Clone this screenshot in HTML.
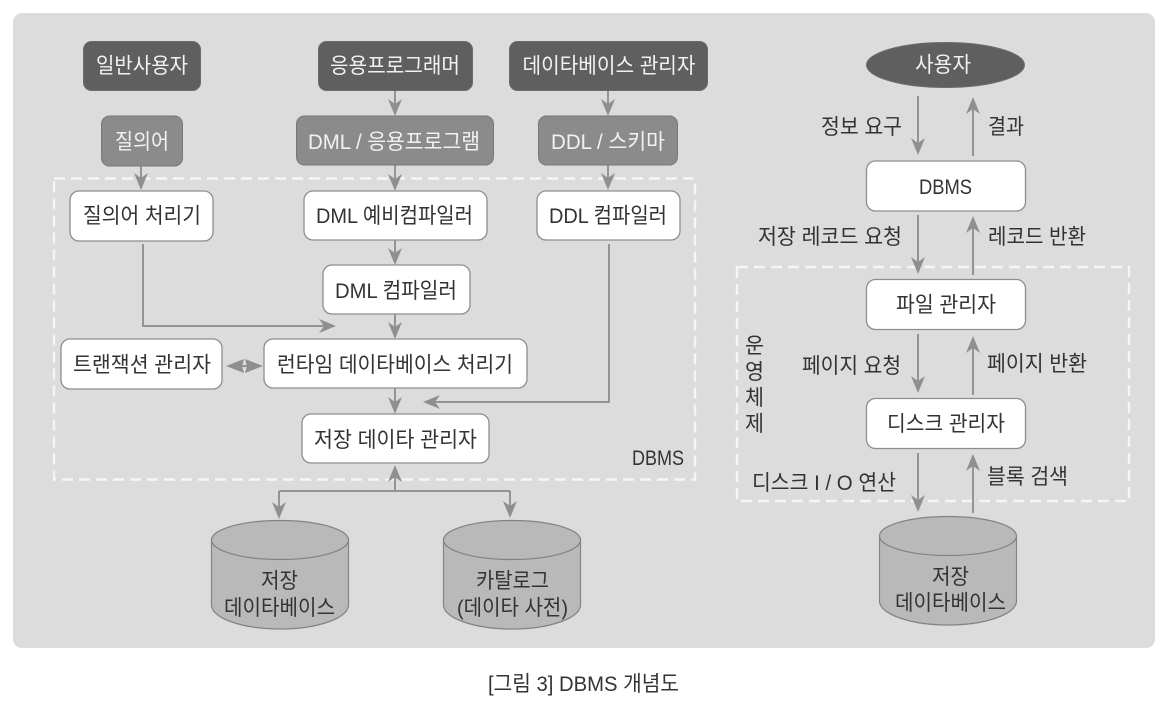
<!DOCTYPE html>
<html lang="ko"><head><meta charset="utf-8"><title>DBMS 개념도</title>
<style>
html,body{margin:0;padding:0;background:#fff}
svg{display:block}
text{font-family:"Liberation Sans","Noto Sans CJK KR",sans-serif;font-size:21.5px;fill:#333;text-anchor:middle}
.w{fill:#f2f2f2}
.b{fill:#fff;stroke:#8e8e8e;stroke-width:1.3}
.d{fill:#5f5f5f;stroke:#6b6b6b;stroke-width:1}
.m{fill:#8b8b8b;stroke:#787878;stroke-width:1}
.l{fill:none;stroke:#949494;stroke-width:2}
.h{fill:#8f8f8f}
.x{fill:none;stroke:#f5f5f5;stroke-width:2.4;stroke-dasharray:11 6}
.c{fill:#b9b9b9;stroke:#838383;stroke-width:1.2}
</style></head><body>
<svg xmlns="http://www.w3.org/2000/svg" width="1169" height="709" viewBox="0 0 1169 709">
<rect width="1169" height="709" fill="#fff"/>
<rect x="13" y="13" width="1142" height="635" rx="9" fill="#dcdcdc"/>

<!-- dashed regions -->
<rect class="x" x="54" y="178.500" width="641" height="301"/>
<rect class="x" x="737" y="267" width="392" height="234"/>

<!-- left connectors -->
<path class="l" d="M395 91V112M395 165V187M395 240V261M395 314V335M395 388V410M141 166V186M608 91V112M608 165V186"/>
<path class="l" d="M143 244V326H330M609 244V402H430M395 470V491M279 491H510M279 491V515M510 491V514M235 366H255"/>
<path class="h" d="M395 116l-7-17 7 5 7-5zM395 191l-7-17 7 5 7-5zM395 265l-7-17 7 5 7-5zM395 339l-7-17 7 5 7-5zM395 414l-7-17 7 5 7-5zM141 190l-7-17 7 5 7-5zM608 116l-7-17 7 5 7-5zM608 190l-7-17 7 5 7-5z"/>
<path class="h" d="M336 326l-17-7 5 7-5 7zM423 402l17-7-5 7 5 7zM226 366l18-7-2 7 2 7zM263 366l-18-7 2 7-2 7zM395 465l-7 17 7-5 7 5zM279 519l-7-17 7 5 7-5zM510 518l-7-17 7 5 7-5z"/>

<!-- right connectors -->
<path class="l" d="M918 96V150M973 108V156M918 215V270M973 227V275M918 334V388M973 347V395M918 453V507M973 465V513"/>
<path class="h" d="M918 155l-7-17 7 5 7-5zM973 97l-7 17 7-5 7 5zM918 274l-7-17 7 5 7-5zM973 216l-7 17 7-5 7 5zM918 393l-7-17 7 5 7-5zM973 336l-7 17 7-5 7 5zM918 512l-7-17 7 5 7-5zM973 454l-7 17 7-5 7 5z"/>

<!-- top dark boxes -->
<rect class="d" x="83.500" y="41.500" width="117" height="49" rx="8"/>
<rect class="d" x="318.500" y="41.500" width="154" height="49" rx="8"/>
<rect class="d" x="509.500" y="41.500" width="198" height="49" rx="8"/>
<ellipse class="d" cx="945.500" cy="65" rx="79" ry="22.500"/>

<!-- mid boxes -->
<rect class="m" x="101.500" y="116" width="81" height="50" rx="8"/>
<rect class="m" x="296.500" y="116" width="197" height="49" rx="8"/>
<rect class="m" x="538.500" y="116" width="139" height="49" rx="8"/>

<!-- white boxes -->
<rect class="b" x="70" y="191" width="143" height="50" rx="9"/>
<rect class="b" x="304" y="191" width="183" height="49" rx="9"/>
<rect class="b" x="537" y="191" width="143" height="49" rx="9"/>
<rect class="b" x="323" y="265" width="147" height="49" rx="9"/>
<rect class="b" x="61" y="339" width="161" height="50" rx="9"/>
<rect class="b" x="264" y="339" width="263" height="49" rx="9"/>
<rect class="b" x="302" y="414" width="187" height="49" rx="9"/>
<rect class="b" x="866.500" y="161" width="159" height="50" rx="9"/>
<rect class="b" x="866.500" y="279.500" width="159" height="50" rx="9"/>
<rect class="b" x="866.500" y="398.500" width="159" height="50" rx="9"/>

<!-- cylinders -->
<path class="c" d="M211.500 540V605C211.500 618 242 629 280 629S348.500 618 348.500 605V540Z"/>
<ellipse class="c" cx="280" cy="540" rx="68.500" ry="19.500"/>
<path class="c" d="M443.500 540V605C443.500 618 474 629 512 629S580.500 618 580.500 605V540Z"/>
<ellipse class="c" cx="512" cy="540" rx="68.500" ry="19.500"/>
<path class="c" d="M879.500 536V601C879.500 614 910 625 948 625S1016.500 614 1016.500 601V536Z"/>
<ellipse class="c" cx="948" cy="536" rx="68.500" ry="19.500"/>

<!-- labels -->
<g>
<text class="w" x="142" y="73" textLength="92" lengthAdjust="spacingAndGlyphs">일반사용자</text>
<text class="w" x="395" y="73" textLength="130" lengthAdjust="spacingAndGlyphs">응용프로그래머</text>
<text class="w" x="609" y="73" textLength="173" lengthAdjust="spacingAndGlyphs">데이타베이스 관리자</text>
<text class="w" x="142" y="149" textLength="54" lengthAdjust="spacingAndGlyphs">질의어</text>
<text class="w" x="394" y="149" textLength="172" lengthAdjust="spacingAndGlyphs">DML / 응용프로그램</text>
<text class="w" x="608" y="149" textLength="114" lengthAdjust="spacingAndGlyphs">DDL / 스키마</text>
<text x="142" y="223" textLength="118" lengthAdjust="spacingAndGlyphs">질의어 처리기</text>
<text x="394.500" y="223" textLength="157" lengthAdjust="spacingAndGlyphs">DML 예비컴파일러</text>
<text x="608" y="223" textLength="118" lengthAdjust="spacingAndGlyphs">DDL 컴파일러</text>
<text x="396" y="298" textLength="122" lengthAdjust="spacingAndGlyphs">DML 컴파일러</text>
<text x="142" y="372" textLength="138" lengthAdjust="spacingAndGlyphs">트랜잭션 관리자</text>
<text x="395" y="372" textLength="236" lengthAdjust="spacingAndGlyphs">런타임 데이타베이스 처리기</text>
<text x="395.500" y="447" textLength="163" lengthAdjust="spacingAndGlyphs">저장 데이타 관리자</text>
<text x="658" y="465" textLength="52" lengthAdjust="spacingAndGlyphs">DBMS</text>
<text x="279.500" y="588" textLength="37" lengthAdjust="spacingAndGlyphs">저장</text>
<text x="279.500" y="615" textLength="111" lengthAdjust="spacingAndGlyphs">데이타베이스</text>
<text x="512.500" y="588" textLength="73" lengthAdjust="spacingAndGlyphs">카탈로그</text>
<text x="512.500" y="615" textLength="111" lengthAdjust="spacingAndGlyphs">(데이타 사전)</text>
<text class="w" x="943" y="72" textLength="56" lengthAdjust="spacingAndGlyphs">사용자</text>
<text x="861.500" y="134" textLength="81" lengthAdjust="spacingAndGlyphs">정보 요구</text>
<text x="1006" y="134" textLength="36" lengthAdjust="spacingAndGlyphs">결과</text>
<text x="945.500" y="194" textLength="53" lengthAdjust="spacingAndGlyphs">DBMS</text>
<text x="830" y="244" textLength="144" lengthAdjust="spacingAndGlyphs">저장 레코드 요청</text>
<text x="1037" y="244" textLength="98" lengthAdjust="spacingAndGlyphs">레코드 반환</text>
<text x="946" y="312" textLength="100" lengthAdjust="spacingAndGlyphs">파일 관리자</text>
<text x="851.500" y="373" textLength="99" lengthAdjust="spacingAndGlyphs">페이지 요청</text>
<text x="1037" y="371" textLength="100" lengthAdjust="spacingAndGlyphs">페이지 반환</text>
<text x="946" y="431" textLength="118" lengthAdjust="spacingAndGlyphs">디스크 관리자</text>
<text x="824" y="490" textLength="144" lengthAdjust="spacingAndGlyphs">디스크 I / O 연산</text>
<text x="1027.500" y="484" textLength="81" lengthAdjust="spacingAndGlyphs">블록 검색</text>
<text x="950.500" y="584" textLength="37" lengthAdjust="spacingAndGlyphs">저장</text>
<text x="950.500" y="610" textLength="111" lengthAdjust="spacingAndGlyphs">데이타베이스</text>
<text x="754.500" y="353" textLength="19" lengthAdjust="spacingAndGlyphs">운</text>
<text x="754.500" y="379" textLength="19" lengthAdjust="spacingAndGlyphs">영</text>
<text x="754.500" y="405" textLength="19" lengthAdjust="spacingAndGlyphs">체</text>
<text x="754.500" y="431" textLength="19" lengthAdjust="spacingAndGlyphs">제</text>
<text x="583.500" y="691" textLength="191" lengthAdjust="spacingAndGlyphs">[그림 3] DBMS 개념도</text>
</g>
</svg>
</body></html>
